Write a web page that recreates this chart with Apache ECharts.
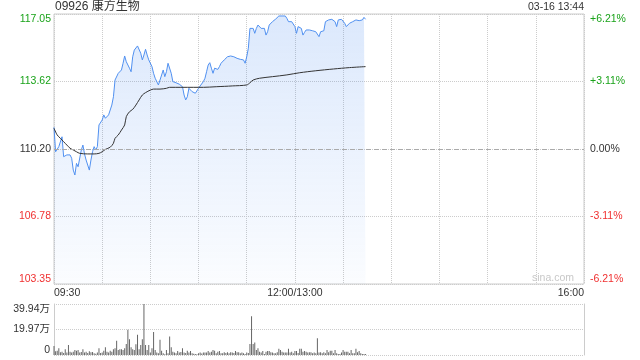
<!DOCTYPE html>
<html><head><meta charset="utf-8">
<script src="https://cdn.jsdelivr.net/npm/echarts@6/dist/echarts.min.js"></script>
<style>html,body{margin:0;padding:0;background:#fff}#c{width:640px;height:360px}</style>
</head><body><div id="c"></div>
<script>
const title = '09926 康方生物';
const stamp = '03-16 13:44';
const watermark = 'sina.com';
const prevClose = 110.20;
const priceStep = 3.425;
const priceTicks = ['103.35','106.78','110.20','113.62','117.05'];
const pctTicks = ['-6.21%','-3.11%','0.00%','+3.11%','+6.21%'];
const volMax = 39.94;
const volTicks = ['0','19.97万','39.94万'];
const timeTickMinutes = [0,150,330];
const timeTickLabels = ['09:30','12:00/13:00','16:00'];

// minute-by-minute price from 09:30 (index 0) to 13:44 (index 194); 12:00/13:00 merged at 150
const prices = [
111.30,110.06,109.98,110.32,110.40,110.82,109.81,109.81,109.90,109.81,
109.90,109.73,109.13,108.88,109.47,109.30,109.30,110.15,110.40,109.95,
109.64,109.56,109.13,109.64,110.06,110.32,110.15,110.32,111.42,111.42,
111.67,111.93,111.76,111.84,111.93,112.01,112.43,112.85,113.70,113.74,
114.04,114.12,114.21,114.55,114.92,114.63,114.55,114.30,114.12,114.88,
115.22,115.31,115.43,115.39,115.06,114.72,114.97,115.26,114.97,114.72,
114.63,114.38,114.04,113.79,113.70,113.45,113.70,113.79,114.21,113.87,
114.12,114.55,114.55,114.04,113.62,113.58,113.56,113.53,113.49,113.45,
113.36,112.94,112.69,112.85,113.28,113.19,113.11,113.11,113.03,113.03,
113.28,113.40,113.45,113.62,113.79,114.12,114.46,114.58,114.30,114.04,
114.30,114.21,114.24,114.38,114.55,114.63,114.72,114.80,114.88,114.97,
114.92,114.97,114.88,114.92,114.80,114.72,114.75,114.80,114.72,114.55,
114.88,115.31,116.32,116.41,116.32,116.07,116.32,116.49,116.49,116.32,
116.41,116.32,115.98,116.15,116.49,116.58,116.66,116.75,116.79,116.83,
116.95,117.00,116.95,117.00,116.95,116.83,116.66,116.75,116.66,116.58,
116.41,116.07,116.41,116.49,116.32,115.98,116.12,116.24,116.15,116.24,
116.15,116.20,116.24,116.15,116.07,115.90,116.15,116.24,116.20,116.66,
116.75,116.75,116.75,116.78,116.75,116.66,116.41,116.75,116.78,116.78,
116.75,116.58,116.41,116.49,116.58,116.61,116.66,116.66,116.75,116.73,
116.71,116.78,116.75,116.88,116.78
];

const avgMinutes = [0,2,4,6,8,10,12,14,16,21,25,28,30,32,35,37,38,40,42,44,45,47,49,51,53,55,57,60,62,66,70,72,79,87,93,101,111,120,122,124,128,136,145,153,163,174,184,194];
const avgPrices = [111.25,110.91,110.74,110.57,110.40,110.24,110.15,110.06,109.98,109.95,109.95,109.98,110.06,110.18,110.29,110.49,110.74,110.91,111.16,111.42,111.84,112.09,112.21,112.43,112.69,112.94,113.06,113.19,113.24,113.24,113.28,113.33,113.33,113.33,113.33,113.36,113.40,113.45,113.56,113.70,113.79,113.87,113.96,114.07,114.17,114.26,114.33,114.38];

// volume per minute, in 万 shares
const volumes = [
7.1,3.0,3.4,5.3,2.1,2.6,1.5,4.5,1.9,7.9,
2.6,1.9,2.6,4.0,3.4,4.0,2.0,2.4,4.5,1.9,
2.6,1.6,2.9,2.1,2.4,1.3,1.0,1.9,5.3,1.5,
1.9,3.4,6.1,2.6,1.9,3.4,2.5,4.5,5.3,11.1,
4.0,4.5,4.5,4.0,5.3,8.7,19.8,12.4,6.1,4.5,
4.0,8.5,15.9,4.5,7.9,12.4,39.94,7.9,4.0,7.9,
1.9,5.3,18.0,4.0,1.9,1.3,11.9,3.4,1.3,0.5,
4.0,1.3,14.5,6.1,2.6,1.9,1.3,3.2,1.9,2.4,
5.3,1.9,1.5,3.4,1.9,3.2,1.3,1.0,0.8,0.5,
1.3,1.9,1.2,1.9,1.9,1.9,3.2,1.9,2.6,4.0,
3.4,1.3,2.6,3.2,1.3,1.3,2.1,1.5,2.1,1.3,
2.1,1.9,1.5,3.2,2.1,2.1,1.3,1.9,1.3,0.8,
1.9,1.5,8.7,30.4,8.7,9.8,4.0,5.3,2.6,1.9,
3.2,0.8,2.6,3.2,3.2,2.1,1.9,1.3,1.3,2.1,
4.8,4.0,2.6,1.9,1.9,1.9,4.8,1.9,2.6,1.3,
3.2,3.2,1.5,4.8,4.8,2.6,3.2,2.6,1.9,2.1,
2.1,1.3,1.9,1.3,13.2,1.9,2.1,1.3,2.1,1.3,
4.0,2.1,3.4,3.4,1.3,4.0,1.3,0.8,0.8,1.9,
4.0,2.6,2.6,2.6,1.3,4.0,1.3,1.3,4.8,2.1,
3.2,1.3,0.8,0.8,0.8
];

const FONT = '"Liberation Sans", Arial, "Noto Sans CJK SC", sans-serif';
const GREEN = '#1aa31a', RED = '#f03030', DARK = '#333';
const toStep = p => (p - prevClose) / priceStep;
const signColor = v => v > 0.001 ? GREEN : (v < -0.001 ? RED : DARK);

const priceData = prices.map((p, i) => [i, toStep(p)]);
const avgData = avgMinutes.map((m, i) => [m, toStep(avgPrices[i])]);
const volData = volumes.map((v, i) => [i, v]);

const chart = echarts.init(document.getElementById('c'));
chart.setOption({
  animation: false,
  textStyle: { fontFamily: FONT },
  title: { text: title, left: 55, top: 1, padding: 0, textStyle: { fontSize: 12, fontWeight: 'normal', color: DARK, fontFamily: FONT } },
  graphic: [
    { type: 'text', right: 56, top: 2, style: { text: stamp, font: '10.5px ' + FONT, fill: DARK } },
    { type: 'text', left: 532, top: 273, style: { text: watermark, font: '10.5px ' + FONT, fill: '#c8c8c8' } }
  ],
  grid: [
    { left: 54, right: 56, top: 14, height: 270, show: true, borderColor: '#ccc', borderWidth: 1, backgroundColor: 'transparent' },
    { left: 54, right: 56, top: 304, height: 51, show: false }
  ],
  xAxis: [
    { type: 'value', gridIndex: 0, min: 0, max: 330, interval: 30,
      axisLine: { show: false }, axisTick: { show: false },
      splitLine: { show: true, lineStyle: { color: '#ccc', type: 'dotted' } },
      axisLabel: { showMinLabel: true, showMaxLabel: true, color: DARK, fontSize: 10.5, fontFamily: FONT, margin: 4,
        alignMinLabel: 'left', alignMaxLabel: 'right',
        formatter: v => { const k = timeTickMinutes.indexOf(Math.round(v)); return k < 0 ? '' : timeTickLabels[k]; } } },
    { type: 'value', gridIndex: 1, min: 0, max: 330, show: false }
  ],
  yAxis: [
    { type: 'value', gridIndex: 0, position: 'left', min: -2, max: 2, interval: 1,
      axisLine: { show: false }, axisTick: { show: false },
      splitLine: { show: true, lineStyle: { color: '#ccc', type: 'dotted' } },
      axisLabel: { margin: 3, fontSize: 10.5, fontFamily: FONT, showMinLabel: true, showMaxLabel: true,
        verticalAlignMinLabel: 'bottom', verticalAlignMaxLabel: 'top',
        color: v => signColor(v), formatter: v => priceTicks[Math.round(v) + 2] } },
    { type: 'value', gridIndex: 0, position: 'right', min: -2, max: 2, interval: 1,
      axisLine: { show: false }, axisTick: { show: false }, splitLine: { show: false },
      axisLabel: { margin: 6, fontSize: 10.5, fontFamily: FONT, showMinLabel: true, showMaxLabel: true,
        verticalAlignMinLabel: 'bottom', verticalAlignMaxLabel: 'top',
        color: v => signColor(v), formatter: v => pctTicks[Math.round(v) + 2] } },
    { type: 'value', gridIndex: 1, position: 'left', min: 0, max: volMax, interval: volMax / 2,
      axisLine: { show: true, lineStyle: { color: '#ccc' } }, axisTick: { show: false },
      splitLine: { show: true, lineStyle: { color: '#ccc', type: 'dotted' } },
      axisLabel: { margin: 4, fontSize: 10.5, fontFamily: FONT, color: DARK, showMinLabel: true, showMaxLabel: true,
        verticalAlignMinLabel: 'bottom', verticalAlignMaxLabel: 'top',
        formatter: v => volTicks[Math.round(v / (volMax / 2))] } },
    { type: 'value', gridIndex: 1, position: 'right', min: 0, max: volMax,
      axisLine: { show: true, lineStyle: { color: '#ccc' } }, axisTick: { show: false },
      splitLine: { show: false }, axisLabel: { show: false } }
  ],
  series: [
    { type: 'line', xAxisIndex: 0, yAxisIndex: 0, data: priceData, showSymbol: false, symbol: 'none',
      lineStyle: { color: '#5090f0', width: 1 },
      areaStyle: { origin: 'start', color: new echarts.graphic.LinearGradient(0, 0, 0, 1, [
        { offset: 0, color: 'rgba(60,130,240,0.26)' }, { offset: 1, color: 'rgba(60,130,240,0.03)' }]) },
      markLine: { symbol: 'none', silent: true, label: { show: false }, animation: false,
        lineStyle: { color: '#aaa', type: [5, 3], width: 1 }, data: [{ yAxis: 0 }] },
      z: 2 },
    { type: 'line', xAxisIndex: 0, yAxisIndex: 0, data: avgData, showSymbol: false, symbol: 'none', smooth: 0.3,
      lineStyle: { color: '#333', width: 1 }, z: 3 },
    { type: 'bar', xAxisIndex: 1, yAxisIndex: 2, data: volData, barWidth: 1, itemStyle: { color: '#666' } }
  ]
});
</script>
</body></html>
